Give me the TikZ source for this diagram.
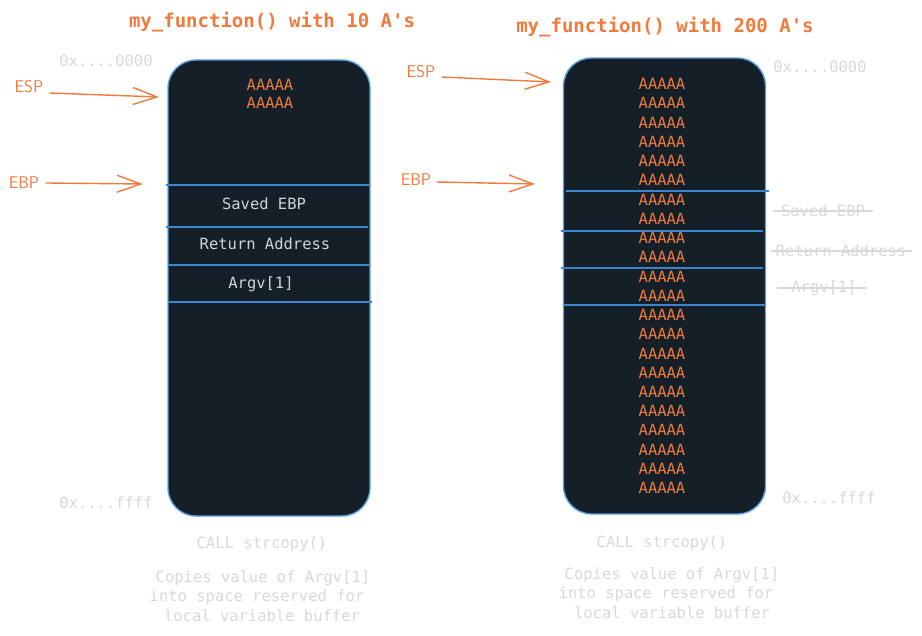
\documentclass[tikz,border=0pt]{standalone}
\usepackage{fontspec}
\setmainfont{Open Sans}
\setmonofont{DejaVu Sans Mono}
\usetikzlibrary{arrows.meta}
\definecolor{org}{HTML}{F07A3C}
\definecolor{boxfill}{HTML}{141F28}
\definecolor{boxedge}{HTML}{5B9FE3}
\definecolor{sepline}{HTML}{3B84D0}
\definecolor{intext}{HTML}{D0D4D8}
\definecolor{faint}{HTML}{D8D8D8}
\tikzset{
  title/.style={text=org, font=\fontsize{19}{22}\selectfont\ttfamily\bfseries, inner sep=0pt},
  stackbox/.style={draw=boxedge, fill=boxfill, line width=1.4pt, rounded corners=28pt, minimum width=202pt, minimum height=456pt, inner sep=0pt},
  sepl/.style={draw=sepline, line width=1.4pt},
  atext/.style={text=org, font=\fontsize{15.5}{18}\selectfont\ttfamily, inner sep=0pt},
  intxt/.style={text=intext, font=\fontsize{15.5}{18}\selectfont\ttfamily, inner sep=0pt},
  faintt/.style={text=faint, font=\fontsize{15.5}{18}\selectfont\ttfamily, inner sep=0pt},
  reg/.style={text=org, font=\fontsize{17}{19}\selectfont\sffamily, inner sep=0pt},
  parrow/.style={draw=org, line width=1.4pt, -{Straight Barb[length=24pt,width=17pt,line width=1.4pt]}},
  strike/.style={draw=faint, line width=1.3pt}
}
\begin{document}
\begin{tikzpicture}[x=1pt,y=-1pt]
\useasboundingbox (0,0) rectangle (922,636);

% ---------- left: 10 A's ----------
\node[title] (t1) at (272,22) {my\_function() with 10 A's};
\node[stackbox] (b1) at (269,288) {};
\draw[sepl] (166,185) -- (370,185);
\draw[sepl] (166,227) -- (368,227);
\draw[sepl] (168,265) -- (370,265);
\draw[sepl] (168,302) -- (372,302);
\node[atext] (a1a) at (270,85) {AAAAA};
\node[atext] (a1b) at (270,103) {AAAAA};
\node[intxt] (sv1) at (264,204) {Saved EBP};
\node[intxt] (ra1) at (265,244) {Return Address};
\node[intxt] (ag1) at (261,284) {Argv[1]};
\node[faintt] (lo1) at (106,61) {0x....0000};
\node[faintt] (hi1) at (106,503) {0x....ffff};
\node[reg] (esp1) at (29,87) {ESP};
\node[reg] (ebp1) at (24,183) {EBP};
\coordinate (espend1) at (159,97);
\coordinate (ebpend1) at (143,184);
\draw[parrow] ([xshift=6pt,yshift=-6pt]esp1.east) -- (espend1);
\draw[parrow] ([xshift=6pt]ebp1.east) -- (ebpend1);
\node[faintt] (call1) at (262,544) {CALL strcopy()};
\node[faintt] (d1a) at (263,578) {Copies value of Argv[1]};
\node[faintt] (d1b) at (257,597) {into space reserved for};
\node[faintt] (d1c) at (262,616) {local variable buffer};

% ---------- right: 200 A's ----------
\node[title] (t2) at (665,27) {my\_function() with 200 A's};
\node[stackbox] (b2) at (664.5,286) {};
\draw[sepl] (566,191) -- (769,191);
\draw[sepl] (561,231) -- (763,231);
\draw[sepl] (561,268) -- (763,268);
\draw[sepl] (563,305) -- (766,305);
\foreach \i in {0,...,21} {
  \node[atext] (a2-\i) at (662,{84+19.24*\i}) {AAAAA};
}
\node[faintt] (lo2) at (820,67) {0x....0000};
\node[faintt] (hi2) at (829,498) {0x....ffff};
\node[faintt] (sv2) at (823,211) {Saved EBP};
\node[faintt] (ra2) at (841,251) {Return Address};
\node[faintt] (ag2) at (824,288) {Argv[1]};
\draw[strike] ([xshift=-8pt]sv2.west) -- ([xshift=8pt]sv2.east);
\draw[strike] ([xshift=-4pt]ra2.west) -- ([xshift=5pt]ra2.east);
\draw[strike] ([xshift=-14pt]ag2.west) -- ([xshift=10pt]ag2.east);
\node[reg] (esp2) at (421,72) {ESP};
\node[reg] (ebp2) at (416,180) {EBP};
\coordinate (espend2) at (551,82);
\coordinate (ebpend2) at (535,184);
\draw[parrow] ([xshift=6pt,yshift=-5pt]esp2.east) -- (espend2);
\draw[parrow] ([xshift=5pt,yshift=-2pt]ebp2.east) -- (ebpend2);
\node[faintt] (call2) at (662,543) {CALL strcopy()};
\node[faintt] (d2a) at (672,575) {Copies value of Argv[1]};
\node[faintt] (d2b) at (666,594) {into space reserved for};
\node[faintt] (d2c) at (672,613) {local variable buffer};
\end{tikzpicture}
\end{document}
